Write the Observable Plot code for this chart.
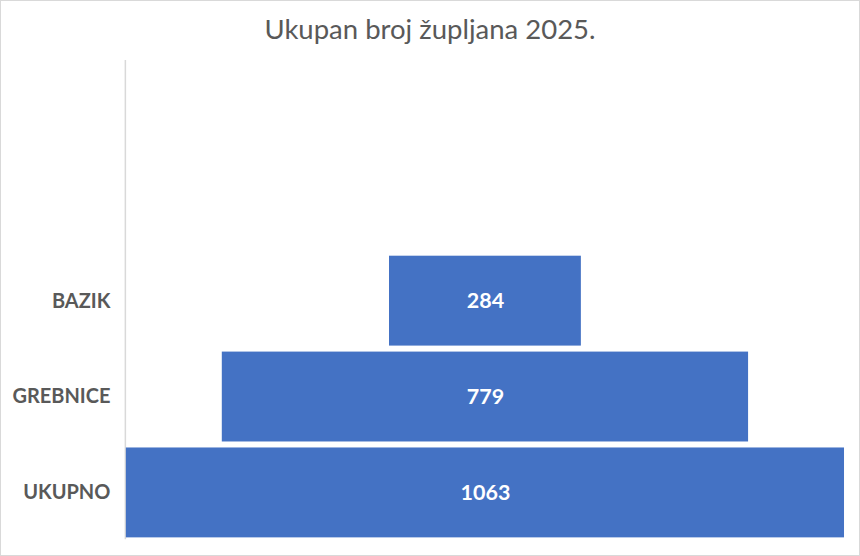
<!DOCTYPE html>
<html>
<head>
<meta charset="utf-8">
<script src="https://cdn.jsdelivr.net/npm/d3@7"></script>
<script src="https://cdn.jsdelivr.net/npm/@observablehq/plot@0.6"></script>
<style>
  html, body { margin: 0; padding: 0; background: #fff; }
  #wrap { position: relative; width: 860px; height: 556px; box-sizing: border-box; border: 1px solid #d9d9d9; overflow: hidden; }
  #title { position: absolute; left: 0; top: 11px; width: 858px; text-align: center; font-family: Lato, "Open Sans", sans-serif; font-size: 27.5px; color: #595959; }
  #chart { position: absolute; left: -1px; top: -1px; }
</style>
</head>
<body>
<div id="wrap">
  <div id="title">Ukupan broj župljana 2025.</div>
  <div id="chart"></div>
</div>
<script>
const categories = ["BAZIK", "GREBNICE", "UKUPNO"];
const values = [284, 779, 1063];
const titleText = "Ukupan broj župljana 2025.";

const data = categories.map((c, i) => ({category: c, value: values[i]}));
const maxV = d3.max(values);

const chart = Plot.plot({
  width: 860,
  height: 556,
  marginTop: 60,
  marginBottom: 16,
  marginLeft: 126,
  marginRight: 15,
  style: {background: "transparent", fontFamily: "Lato, 'Open Sans', sans-serif"},
  x: {domain: [-maxV / 2, maxV / 2], axis: null},
  y: {domain: categories, range: [248.5, 544.5], padding: 0.0674, label: null},
  marks: [
    Plot.ruleX([-maxV / 2], {stroke: "#d9d9d9", strokeWidth: 1.5, dx: -1}),
    Plot.barX(data, {y: "category", x1: d => -d.value / 2, x2: d => d.value / 2, fill: "#4472C4"}),
    Plot.text(data, {y: "category", x: 0, text: d => String(d.value), fill: "white", fontWeight: "bold", fontSize: 21.5}),
    Plot.axisY({tickSize: 0, tickPadding: 16, fontSize: 20, fontWeight: "bold", fill: "#595959", label: null})
  ]
});
document.getElementById("chart").appendChild(chart);
document.getElementById("title").textContent = titleText;
</script>
</body>
</html>
